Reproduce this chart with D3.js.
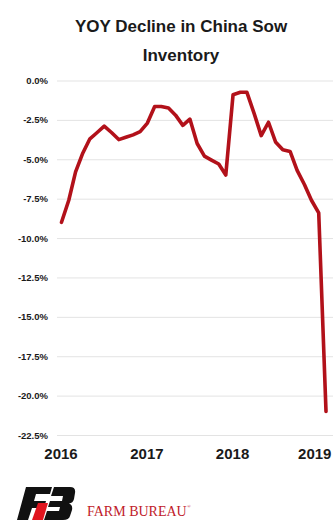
<!DOCTYPE html>
<html>
<head>
<meta charset="utf-8">
<script src="https://cdn.jsdelivr.net/npm/d3@7"></script>
<style>
  html, body { margin: 0; padding: 0; background: #fff; }
  svg { display: block; }
</style>
</head>
<body>
<svg id="chart" width="333" height="520"></svg>
<script>
// ---- Data ----
const months = [
  "2016-01","2016-02","2016-03","2016-04","2016-05","2016-06","2016-07","2016-08","2016-09","2016-10","2016-11","2016-12",
  "2017-01","2017-02","2017-03","2017-04","2017-05","2017-06","2017-07","2017-08","2017-09","2017-10","2017-11","2017-12",
  "2018-01","2018-02","2018-03","2018-04","2018-05","2018-06","2018-07","2018-08","2018-09","2018-10","2018-11","2018-12",
  "2019-01","2019-02"
];
const yoyDecline = [
  -9.0, -7.6, -5.8, -4.6, -3.7, -3.3, -2.9, -3.3, -3.75, -3.6, -3.45, -3.25,
  -2.7, -1.65, -1.65, -1.75, -2.2, -2.85, -2.45, -4.0, -4.8, -5.05, -5.3, -6.0,
  -0.9, -0.75, -0.75, -2.1, -3.5, -2.65, -3.9, -4.4, -4.5, -5.7, -6.6, -7.6,
  -8.4, -21.0
];
const yTicks = [0, -2.5, -5, -7.5, -10, -12.5, -15, -17.5, -20, -22.5];
const yearTicks = ["2016-01", "2017-01", "2018-01", "2019-01"];
const titleLines = ["YOY Decline in China Sow", "Inventory"];

// ---- Chart ----
const svg = d3.select("#chart");
const parse = d3.timeParse("%Y-%m");
const data = months.map((m, i) => ({ date: parse(m), value: yoyDecline[i] }));

const x = d3.scaleTime()
  .domain([parse(months[0]), parse(months[months.length - 1])])
  .range([61.5, 326]);
const y = d3.scaleLinear().domain([-22.5, 0]).range([435, 80.5]);

// Title
svg.append("g").selectAll("text").data(titleLines).join("text")
  .attr("x", 181).attr("y", (d, i) => 32 + i * 29)
  .attr("text-anchor", "middle")
  .attr("font-family", "Liberation Sans, Arial, sans-serif")
  .attr("font-weight", "bold")
  .attr("font-size", 17)
  .attr("fill", "#1a1a1a")
  .text(d => d);

// Y axis with gridlines
const yAxis = d3.axisLeft(y)
  .tickValues(yTicks)
  .tickSize(-276)
  .tickPadding(9)
  .tickFormat(d => d3.format(".1f")(d) + "%");

const gy = svg.append("g").attr("transform", "translate(57,0)").call(yAxis);
gy.select(".domain").remove();
gy.selectAll(".tick line").attr("stroke", "#e3e3e3").attr("stroke-width", 1);
gy.selectAll(".tick text")
  .attr("fill", "#1a1a1a")
  .attr("font-family", "Liberation Sans Narrow, Liberation Sans, Arial, sans-serif")
  .attr("font-weight", "bold")
  .attr("font-size", 9.5)
  .attr("x", -9)
  .text(d => (d === 0 ? "0.0" : d3.format(".1f")(d).replace("−", "-")) + "%");

// X axis labels
const xAxis = d3.axisBottom(x)
  .tickValues(yearTicks.map(parse))
  .tickSize(0)
  .tickPadding(0)
  .tickFormat(d3.timeFormat("%Y"));
const gx = svg.append("g").attr("transform", "translate(-1,448)").call(xAxis);
gx.select(".domain").remove();
gx.selectAll(".tick text")
  .attr("fill", "#1a1a1a")
  .attr("font-family", "Liberation Sans, Arial, sans-serif")
  .attr("font-weight", "bold")
  .attr("font-size", 15)
  .attr("dy", "0.71em");
gx.selectAll(".tick").filter((d, i) => i === 3).attr("transform", `translate(${x(parse("2019-01")) - 3},0)`);

// Line
const line = d3.line().x(d => x(d.date)).y(d => y(d.value));
svg.append("path").datum(data)
  .attr("d", line)
  .attr("fill", "none")
  .attr("stroke", "#b2111a")
  .attr("stroke-width", 3.6)
  .attr("stroke-linejoin", "round")
  .attr("stroke-linecap", "round");

// Logo (decorative)
const logo = svg.append("g");
logo.append("path")
  .attr("d", "M26,487 L52,487 L50,494 L36,494 L34,501 L46,501 L44,508 L32,508 L28,520 L17,520 Z")
  .attr("fill", "#111");
logo.append("path")
  .attr("d", "M54,487 L70,487 Q76,487 75,493 L74,499 Q73,503 69,503.5 Q73,505 72,510 L70,516 Q69,520 63,520 L44,520 L47,511 L59,511 L60,507 L48,507 L50,501 L62,501 L63,496 L51,496 Z")
  .attr("fill", "#111");
logo.append("path")
  .attr("d", "M38,503 L48,503 L43,520 L32,520 Z")
  .attr("fill", "#e0141e");

svg.append("text")
  .attr("x", 87).attr("y", 516)
  .attr("font-family", "Liberation Serif, Times New Roman, serif")
  .attr("font-size", 14)
  .attr("fill", "#c0202a")
  .text("FARM BUREAU");
svg.append("text")
  .attr("x", 187).attr("y", 508)
  .attr("font-family", "Liberation Serif, serif")
  .attr("font-size", 5)
  .attr("fill", "#c0202a")
  .text("®");
</script>
</body>
</html>
